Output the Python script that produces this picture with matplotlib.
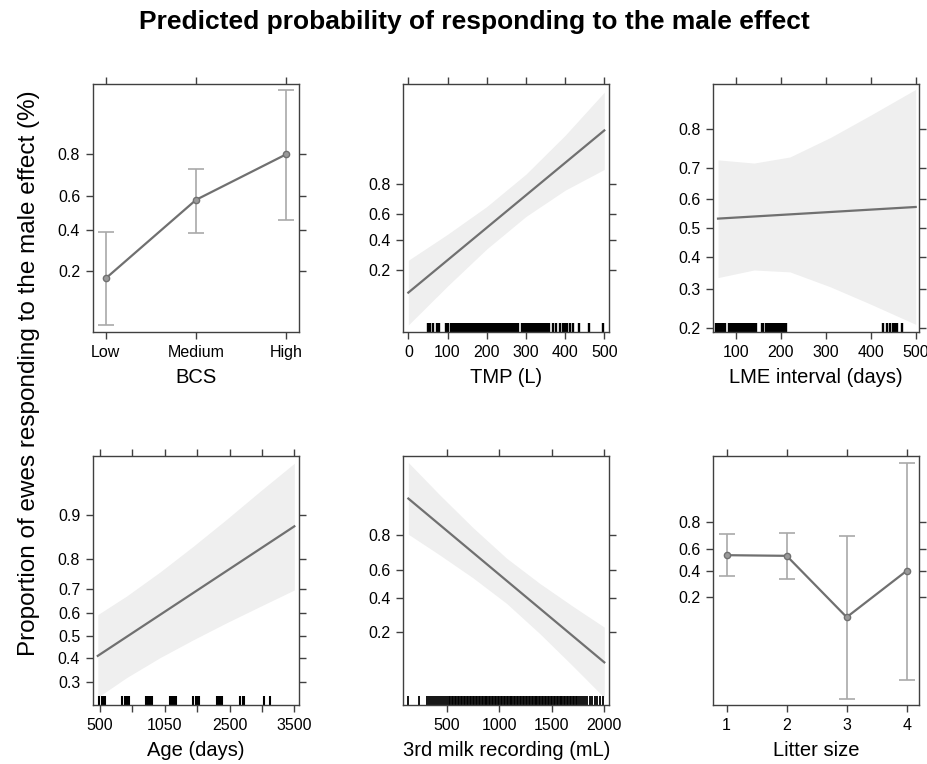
#
# Effect plots: predicted probability of responding to the male effect
#
import numpy as np
import matplotlib
matplotlib.use('agg')
import matplotlib.pyplot as plt
from matplotlib.ticker import NullLocator

plt.rcParams["font.family"] = ["Liberation Sans", "DejaVu Sans"]

# --- BCS (factor) ---
bcs_levels = ["Low", "Medium", "High"]
bcs_fit = [0.173, 0.575, 0.800]
bcs_lower = [0.064, 0.383, 0.458]
bcs_upper = [0.389, 0.739, 0.949]

# --- TMP (L) ---
tmp_line_x = [0, 500]
tmp_line_p = [0.108, 0.957]
tmp_band_x = [0, 100, 200, 300, 400, 500]
tmp_band_hi = [0.255, 0.441, 0.658, 0.845, 0.950, 0.987]
tmp_band_lo = [0.041, 0.130, 0.330, 0.583, 0.765, 0.864]
tmp_rug = [51, 55, 64, 72, 79, 96, 100,
           109, 113, 117, 121, 125, 129, 133, 137, 141, 145, 149, 153, 157,
           161, 165, 169, 173, 177, 181, 185, 189, 193, 197, 201, 205, 209,
           213, 217, 221, 225, 229, 233, 237, 241, 245, 249, 253, 257, 261,
           265, 269, 273, 277, 281, 289, 293, 297, 301, 305, 309, 313, 317,
           321, 325, 331, 335, 339, 343, 347, 351, 355, 359,
           370, 377, 387, 394, 400, 406, 412, 421, 436, 462, 497]

# --- LME interval (days) ---
lme_line_x = [60, 500]
lme_line_p = [0.534, 0.574]
lme_band_x = [60, 140, 220, 310, 400, 500]
lme_band_hi = [0.722, 0.713, 0.730, 0.780, 0.829, 0.874]
lme_band_lo = [0.335, 0.359, 0.353, 0.307, 0.258, 0.208]
lme_rug = [56, 59, 63, 66, 69, 72, 75, 84, 87, 90, 93, 96, 99, 102, 105, 108,
           111, 114, 117, 120, 123, 126, 129, 132, 135, 138, 141, 144,
           157, 161, 166, 169, 172, 175, 178, 181, 184, 187, 190, 193, 196,
           199, 202, 205, 208, 211,
           428, 436, 443, 450, 454, 458, 469]

# --- Age (days), plotted on an index axis with custom labels ---
age_tick_pos = [0, 1, 2, 3, 4, 5, 6]
age_tick_labels = ["500", "", "1050", "", "2500", "", "3500"]
age_line_x = [-0.07, 6.0]
age_line_p = [0.409, 0.879]
age_band_x = [-0.07, 0.82, 1.85, 2.88, 3.91, 4.94, 6.0]
age_band_hi = [0.594, 0.672, 0.760, 0.835, 0.892, 0.932, 0.958]
age_band_lo = [0.246, 0.318, 0.401, 0.481, 0.558, 0.629, 0.696]
age_rug = [-0.02, 0.06, 0.09, 0.12, 0.15,
           0.67, 0.76, 0.80, 0.84, 0.88,
           1.42, 1.49, 1.53, 1.57, 1.61,
           2.16, 2.23, 2.27, 2.31, 2.34,
           2.88, 2.95, 2.99, 3.03, 3.06,
           3.60, 3.67, 3.71, 3.75, 3.78,
           4.32, 4.40, 4.46,
           5.06, 5.25]

# --- 3rd milk recording (mL) ---
milk_line_x = [135, 2000]
milk_line_p = [0.920, 0.0946]
milk_band_x = [135, 436, 753, 1070, 1387, 1705, 2000]
milk_band_hi = [0.970, 0.927, 0.832, 0.675, 0.501, 0.341, 0.223]
milk_band_lo = [0.805, 0.694, 0.540, 0.362, 0.192, 0.085, 0.0366]
milk_rug = [135, 240, 310, 330, 350, 372, 392, 410, 430, 450, 468, 486, 502,
            518, 532, 548, 562, 578, 592, 606, 620, 636, 650, 664, 678, 692,
            706, 720, 734, 748, 762, 776, 790, 804, 818, 832, 846, 860, 874,
            888, 902, 916, 930, 944, 958, 972, 986, 1000, 1014, 1028, 1042,
            1056, 1070, 1084, 1098, 1112, 1126, 1140, 1154, 1168, 1182, 1196,
            1210, 1224, 1238, 1252, 1266, 1280, 1294, 1308, 1322, 1336, 1350,
            1364, 1378, 1392, 1406, 1420, 1434, 1448, 1462, 1476, 1490, 1504,
            1518, 1532, 1546, 1560, 1574, 1588, 1602, 1616, 1630, 1644, 1658,
            1672, 1686, 1700, 1714, 1728, 1742, 1758, 1776, 1796, 1818, 1840,
            1862, 1886, 1910, 1934, 1958, 1990]

# --- Litter size (factor) ---
litter_levels = [1, 2, 3, 4]
litter_fit = [0.543, 0.537, 0.107, 0.400]
litter_lower = [0.356, 0.326, 0.0058, 0.0116]
litter_upper = [0.719, 0.730, 0.706, 0.973]

LINE = "#707070"
BAND = "#efefef"
ERR = "#a9a9a9"
FRAME = "#404040"

fig = plt.figure(figsize=(9.27, 7.64), dpi=100)

W, H = 927.0, 764.0
def panel(left, top, right, bottom):
    return fig.add_axes([left / W, 1 - bottom / H, (right - left) / W, (bottom - top) / H])

axes = [panel(92.7, 84, 299, 332), panel(403.3, 84, 609.3, 332), panel(713.3, 84, 918.7, 332),
        panel(92.7, 456, 299, 705), panel(403.3, 456, 609.3, 705), panel(713.3, 456, 918.7, 705)]

def style(ax, yticks, ylim):
    ax.set_yscale('logit')
    ax.set_ylim(*ylim)
    ax.set_yticks(yticks)
    ax.set_yticklabels([f"{t:.1f}" for t in yticks])
    ax.yaxis.set_minor_locator(NullLocator())
    ax.xaxis.set_minor_locator(NullLocator())
    for s in ax.spines.values():
        s.set_color(FRAME)
        s.set_linewidth(1.0)
    ax.tick_params(direction='out', length=5, width=1.0, color=FRAME,
                   top=True, right=True, labeltop=False, labelright=False,
                   labelsize=11.5, pad=4)

def rug(ax, xs, lw=1.5):
    ax.vlines(xs, 0, 0.036, transform=ax.get_xaxis_transform(), color='black', lw=lw)

def effect_line(ax, lx, lp, bx, hi, lo):
    ax.fill_between(bx, lo, hi, color=BAND, lw=0)
    ax.plot(lx, lp, color=LINE, lw=1.6)

def effect_factor(ax, xs, fit, lo, hi):
    fit = np.array(fit); lo = np.array(lo); hi = np.array(hi)
    ax.errorbar(xs, fit, yerr=[fit - lo, hi - fit], fmt='none', ecolor=ERR,
                elinewidth=1.2, capsize=6, capthick=1.2)
    ax.plot(xs, fit, color=LINE, lw=1.6, marker='o', ms=4.5,
            mfc="#9a9a9a", mec=LINE, mew=1.0)

# BCS
ax = axes[0]
effect_factor(ax, range(len(bcs_levels)), bcs_fit, bcs_lower, bcs_upper)
style(ax, [0.2, 0.4, 0.6, 0.8], (0.0553, 0.955))
ax.set_xlim(-0.144, 2.14)
ax.set_xticks(range(len(bcs_levels)))
ax.set_xticklabels(bcs_levels)
ax.set_xlabel("BCS", fontsize=14.5, labelpad=6)

# TMP
ax = axes[1]
effect_line(ax, tmp_line_x, tmp_line_p, tmp_band_x, tmp_band_hi, tmp_band_lo)
rug(ax, tmp_rug, 1.7)
style(ax, [0.2, 0.4, 0.6, 0.8], (0.033, 0.99))
ax.set_xlim(-12.8, 512.8)
ax.set_xticks([0, 100, 200, 300, 400, 500])
ax.set_xlabel("TMP (L)", fontsize=14.5, labelpad=6)

# LME interval
ax = axes[2]
effect_line(ax, lme_line_x, lme_line_p, lme_band_x, lme_band_hi, lme_band_lo)
rug(ax, lme_rug, 1.7)
style(ax, [0.2, 0.3, 0.4, 0.5, 0.6, 0.7, 0.8], (0.191, 0.882))
ax.set_xlim(49.5, 506.7)
ax.set_xticks([100, 200, 300, 400, 500])
ax.set_xlabel("LME interval (days)", fontsize=14.5, labelpad=6)

# Age
ax = axes[3]
effect_line(ax, age_line_x, age_line_p, age_band_x, age_band_hi, age_band_lo)
rug(ax, age_rug, 1.5)
style(ax, [0.3, 0.4, 0.5, 0.6, 0.7, 0.8, 0.9], (0.221, 0.963))
ax.set_xlim(-0.226, 6.144)
ax.set_xticks(age_tick_pos)
ax.set_xticklabels(age_tick_labels)
ax.set_xlabel("Age (days)", fontsize=14.5, labelpad=6)

# 3rd milk recording
ax = axes[4]
effect_line(ax, milk_line_x, milk_line_p, milk_band_x, milk_band_hi, milk_band_lo)
rug(ax, milk_rug, 1.3)
style(ax, [0.2, 0.4, 0.6, 0.8], (0.0298, 0.975))
ax.set_xlim(87, 2047.6)
ax.set_xticks([500, 1000, 1500, 2000])
ax.set_xlabel("3rd milk recording (mL)", fontsize=14.5, labelpad=6)

# Litter size
ax = axes[5]
effect_factor(ax, litter_levels, litter_fit, litter_lower, litter_upper)
style(ax, [0.2, 0.4, 0.6, 0.8], (0.00463, 0.979))
ax.set_xlim(0.777, 4.2)
ax.set_xticks(litter_levels)
ax.set_xlabel("Litter size", fontsize=14.5, labelpad=6)

fig.text(0.512, 1 - 22 / H, "Predicted probability of responding to the male effect",
         ha='center', va='center', fontsize=19, fontweight='bold')
fig.text(29 / W, 1 - 373 / H, "Proportion of ewes responding to the male effect (%)",
         ha='center', va='center', rotation=90, fontsize=17.5)

plt.savefig("out.png", dpi=100)
plt.close()
